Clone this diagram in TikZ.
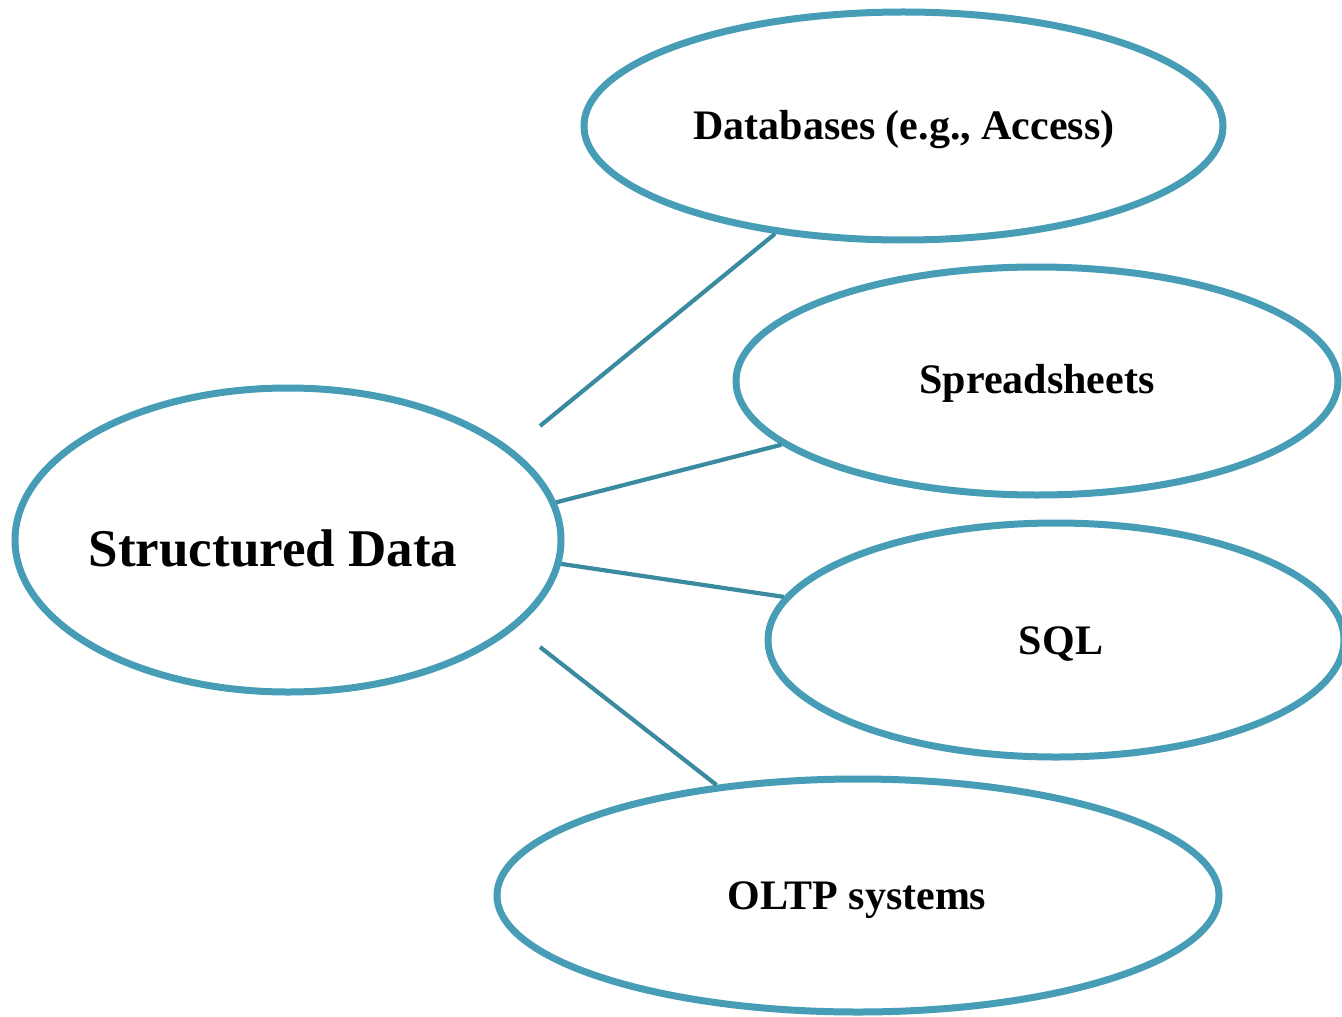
\documentclass[tikz,border=0pt]{standalone}
\usepackage{fontspec}
\setmainfont{Liberation Serif}
\usetikzlibrary{shapes.geometric}
\definecolor{ringblue}{RGB}{70,157,181}
\definecolor{linkblue}{RGB}{58,138,160}
\begin{document}
\begin{tikzpicture}[x=0.5pt,y=-0.5pt,
  bubble/.style={ellipse, draw=ringblue, line width=3.5pt, fill=white, inner sep=0pt},
  lbltext/.style={font=\bfseries\fontsize{21pt}{25pt}\selectfont, anchor=base, inner sep=0pt},
  link/.style={draw=linkblue, line width=2.1pt}]
\useasboundingbox (0,0) rectangle (1342,1016);

% ellipses
\node[bubble, minimum width=273pt, minimum height=152pt] (sd) at (288,540) {};
\node[bubble, minimum width=319.5pt, minimum height=114pt] (db) at (903.5,126) {};
\node[bubble, minimum width=301pt, minimum height=114pt] (ss) at (1037,381) {};
\node[bubble, minimum width=288pt, minimum height=117pt] (sql) at (1056,640) {};
\node[bubble, minimum width=361pt, minimum height=116.5pt] (oltp) at (858,895.5) {};

% labels
\node[lbltext, font=\bfseries\fontsize{26.5pt}{31pt}\selectfont] (sdtext) at (273,566) {Structured Data};
\node[lbltext] (dbtext) at (904,140) {Databases (e.g., Access)};
\node[lbltext] (sstext) at (1037,393) {Spreadsheets};
\node[lbltext] (sqltext) at (1061,654) {SQL};
\node[lbltext] (oltptext) at (857,909) {OLTP systems};

% connectors
\coordinate (l1) at (540,426);
\coordinate (l4) at (540,647);
\draw[link] (l1) -- (db.220);
\draw[link] (sd.8) -- (ss.194);
\draw[link] (sd.-5) -- (sql.171);
\draw[link] (l4) -- (oltp.142);
\end{tikzpicture}
\end{document}
